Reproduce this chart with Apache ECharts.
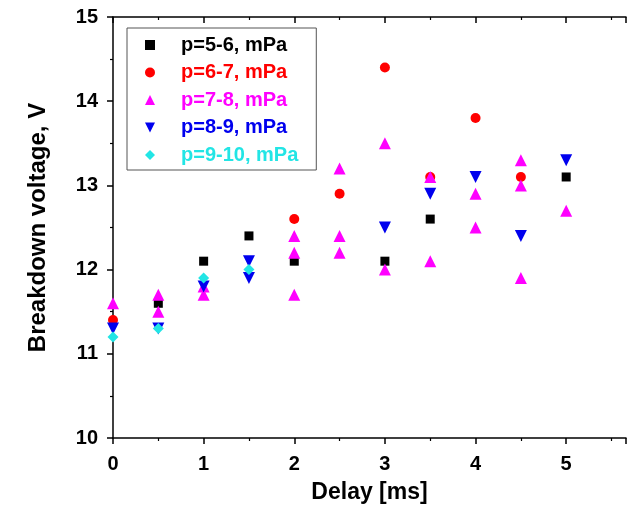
<!DOCTYPE html>
<html><head><meta charset="utf-8">
<script src="https://cdn.jsdelivr.net/npm/echarts@6/dist/echarts.min.js"></script>
<style>html,body{margin:0;padding:0;background:#fff;overflow:hidden}#c{width:629px;height:509px}</style>
</head><body><div id="c"></div>
<script>
const seriesNames = ['p=5-6, mPa','p=6-7, mPa','p=7-8, mPa','p=8-9, mPa','p=9-10, mPa'];
const colors = ['#000000','#ff0000','#ff00ff','#0000ee','#22e5e5'];
const p56 = [[0.5,11.6],[1,12.1],[1.5,12.4],[2,12.1],[3,12.1],[3.5,12.6],[5,13.1]];
const p67 = [[0,11.4],[2,12.6],[2.5,12.9],[3,14.4],[3.5,13.1],[4,13.8],[4.5,13.1]];
const p78 = [[0,11.6],[0.5,11.7],[0.5,11.5],[1,11.8],[1,11.7],[2,12.4],[2,12.2],[2,11.7],
  [2.5,13.2],[2.5,12.4],[2.5,12.2],[3,13.5],[3,12.0],[3.5,13.1],[3.5,12.1],
  [4,12.9],[4,12.5],[4.5,13.3],[4.5,13.0],[4.5,11.9],[5,12.7]];
const p89 = [[0,11.3],[0.5,11.3],[1,11.8],[1.5,12.1],[1.5,11.9],[3,12.5],[3.5,12.9],[4,13.1],[4.5,12.4],[5,13.3]];
const p910 = [[0,11.2],[0.5,11.3],[1,11.9],[1.5,12.0]];
const xTicks = [0,1,2,3,4,5];
const yTicks = [10,11,12,13,14,15];

const font = 'Liberation Sans, Arial, sans-serif';
const chart = echarts.init(document.getElementById('c'));
const downTri = 'path://M0,0L10,0L5,10Z';
const symbols = [['rect',9],['circle',10],['triangle',12],[downTri,12],['diamond',11]];
const legendSymbols = ['rect','circle','triangle',downTri,'diamond'];
const dataSets = [p56,p67,p78,p89,p910];
const axisCommon = {
  type:'value', min:0, max:5.66, interval:1,
  axisLine:{show:true,lineStyle:{color:'#000',width:1.5}},
  splitLine:{show:false},
  minorTick:{show:true,splitNumber:2,length:3,lineStyle:{color:'#000',width:1.2}},
  minorSplitLine:{show:false}
};
chart.setOption({
  animation:false,
  backgroundColor:'#fff',
  grid:{left:113,right:0,top:17,bottom:71,containLabel:false},
  legend:{
    orient:'vertical', left:127, top:28,
    padding:[7,18,5,18], itemGap:7.5, itemWidth:10, itemHeight:10,
    borderColor:'#555', borderWidth:1, backgroundColor:'#fff',
    textStyle:{fontFamily:font,fontWeight:'bold',fontSize:20,lineHeight:20,padding:[0,0,0,21]},
    data: seriesNames.map((n,i)=>({name:n,icon:legendSymbols[i],textStyle:{color:colors[i]}}))
  },
  xAxis:[
    Object.assign({}, axisCommon, {
      position:'bottom',
      name:'Delay [ms]', nameLocation:'middle', nameGap:43,
      nameTextStyle:{fontFamily:font,fontWeight:'bold',fontSize:23,color:'#000'},
      axisTick:{show:true,inside:false,length:6,lineStyle:{color:'#000',width:1.5}},
      axisLabel:{show:true,margin:16,fontFamily:font,fontWeight:'bold',fontSize:20,color:'#000',
        formatter:v=>xTicks.includes(v)?String(v):''}
    }),
    Object.assign({}, axisCommon, {
      position:'top',
      axisTick:{show:true,inside:true,length:6,lineStyle:{color:'#000',width:1.5}},
      axisLabel:{show:false}
    })
  ],
  yAxis:{
    type:'value', min:10, max:15, interval:1,
    name:'Breakdown voltage, V', nameLocation:'middle', nameGap:63, nameRotate:90,
    nameTextStyle:{fontFamily:font,fontWeight:'bold',fontSize:24,color:'#000'},
    axisLine:{show:true,lineStyle:{color:'#000',width:1.5}},
    axisTick:{show:true,inside:false,length:6,lineStyle:{color:'#000',width:1.5}},
    minorTick:{show:true,splitNumber:2,length:3,lineStyle:{color:'#000',width:1.2}},
    splitLine:{show:false},
    axisLabel:{margin:15,fontFamily:font,fontWeight:'bold',fontSize:20,color:'#000',
      formatter:v=>yTicks.includes(v)?String(v):''}
  },
  series: dataSets.map((d,i)=>({
    name:seriesNames[i], type:'scatter', xAxisIndex:0,
    symbol:symbols[i][0], symbolSize:symbols[i][1],
    itemStyle:{color:colors[i],opacity:1},
    data:d
  }))
});
</script></body></html>
